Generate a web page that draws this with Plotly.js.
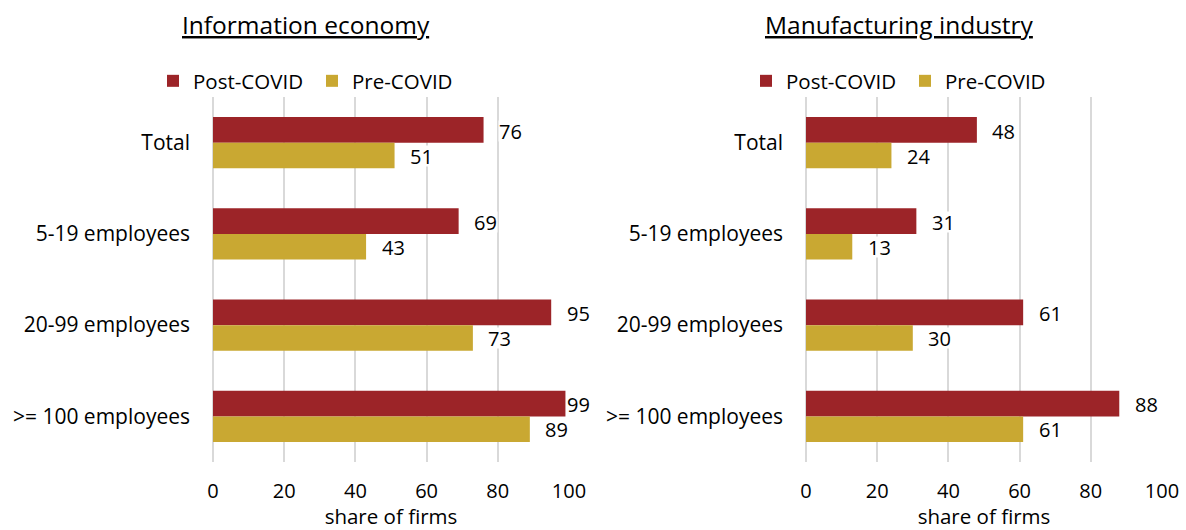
<!DOCTYPE html>
<html>
<head>
<meta charset="utf-8">
<script src="https://cdn.plot.ly/plotly-3.0.1.min.js"></script>
<style>html,body{margin:0;padding:0;background:#fff}#chart{width:1186px;height:530px}</style>
</head>
<body>
<div id="chart"></div>
<script>
const categories = ["Total", "5-19 employees", "20-99 employees", ">= 100 employees"];
const infoPost = [76, 69, 95, 99];
const infoPre = [51, 43, 73, 89];
const manuPost = [48, 31, 61, 88];
const manuPre = [24, 13, 30, 61];
const seriesNames = ["Post-COVID", "Pre-COVID"];
const panelTitles = ["Information economy", "Manufacturing industry"];
const xTicks = [0, 20, 40, 60, 80, 100];

const RED = "#9c2428", GOLD = "#c9a832";
const FONT = "'Open Sans', Lato, sans-serif";
const W = 1186, H = 530;
const PX_PER_UNIT = 356 / 100;

function bar(name, vals, color, xa, ya, legend) {
  return {type: "bar", orientation: "h", name: name, x: vals, y: categories,
    xaxis: xa, yaxis: ya, legend: legend, showlegend: true,
    marker: {color: color, line: {width: 0}},
    hoverinfo: "x+y"};
}

const data = [
  bar(seriesNames[0], infoPost, RED, "x", "y", "legend"),
  bar(seriesNames[1], infoPre, GOLD, "x", "y", "legend"),
  bar(seriesNames[0], manuPost, RED, "x2", "y2", "legend2"),
  bar(seriesNames[1], manuPre, GOLD, "x2", "y2", "legend2")
];

const annotations = [];
function labels(vals, xr, yr, shift) {
  vals.forEach((v, i) => annotations.push({
    x: v, y: categories[i], xref: xr, yref: yr, text: String(v), showarrow: false,
    xanchor: "center", yanchor: "middle",
    xshift: Math.min(27, (100 - v) * PX_PER_UNIT + 9), yshift: shift,
    bgcolor: "#ffffff", borderpad: 0, height: 20,
    font: {family: FONT, size: 20, color: "#000"}
  }));
}
labels(infoPost, "x", "y", 12);
labels(infoPre, "x", "y", -13);
labels(manuPost, "x2", "y2", 12);
labels(manuPre, "x2", "y2", -13);

// panel titles
[[306, 0], [899, 1]].forEach(([cx, k]) => annotations.push({
  xref: "paper", yref: "paper", x: cx / W, y: 1 - 25 / H, text: "<u>" + panelTitles[k] + "</u>",
  showarrow: false, xanchor: "center", yanchor: "middle",
  font: {family: FONT, size: 24.5, color: "#000"}}));

const yDom = [(H - 462) / H, (H - 97) / H];
function xaxis(dom, anchor) {
  return {domain: dom, anchor: anchor, range: [0, 100], tickvals: xTicks, ticktext: xTicks.map(String),
    showgrid: true, gridcolor: "#d9d9d9", gridwidth: 2,
    zeroline: true, zerolinecolor: "#d9d9d9", zerolinewidth: 2, showline: false,
    ticks: "", ticklabelstandoff: 15, tickfont: {family: FONT, size: 20, color: "#000"},
    title: {text: "share of firms", font: {family: FONT, size: 20.5, color: "#000"}, standoff: 14},
    automargin: false, fixedrange: true};
}
function yaxis(anchor) {
  return {domain: yDom, anchor: anchor, type: "category", range: [3.5, -0.5], autorange: false,
    showgrid: false, zeroline: false, showline: false, ticks: "", ticklabelstandoff: 22,
    tickfont: {family: FONT, size: 21, color: "#000"}, automargin: false, fixedrange: true};
}
function legend(xpx) {
  return {orientation: "h", x: xpx / W, y: 1 - 81 / H, xanchor: "left", yanchor: "middle",
    font: {family: FONT, size: 20.5, color: "#000"}, traceorder: "normal",
    bgcolor: "rgba(0,0,0,0)", itemwidth: 30, entrywidth: 114, entrywidthmode: "pixels"};
}

const layout = {
  width: W, height: H, margin: {l: 0, r: 0, t: 0, b: 0},
  paper_bgcolor: "#fff", plot_bgcolor: "#fff",
  barmode: "group", bargap: 0.44, bargroupgap: 0,
  font: {family: FONT, color: "#000"},
  xaxis: xaxis([213 / W, 569 / W], "y"),
  yaxis: yaxis("x"),
  xaxis2: xaxis([806 / W, 1162 / W], "y2"),
  yaxis2: yaxis("x2"),
  legend: legend(153),
  legend2: legend(746),
  annotations: annotations,
  showlegend: true
};

Plotly.newPlot("chart", data, layout, {displayModeBar: false, responsive: false});
</script>
</body>
</html>
